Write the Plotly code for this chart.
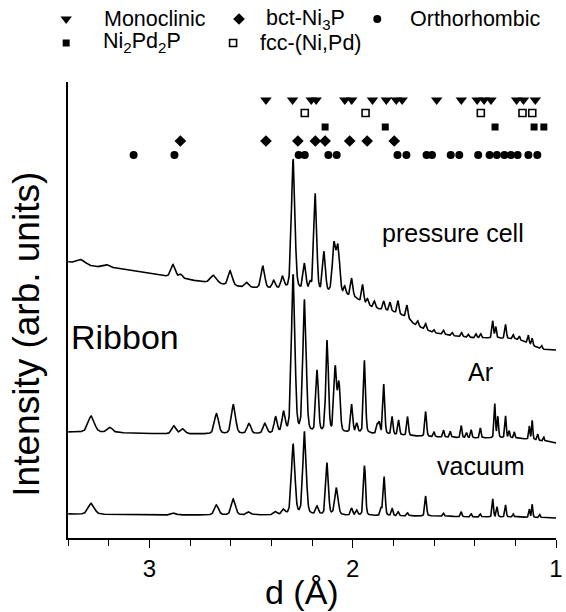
import numpy as np
import plotly.graph_objects as go

# ---------------- data ----------------
# reflection positions (d, Angstrom) of each phase
monoclinic_d = [2.427, 2.296, 2.204, 2.180, 2.039, 2.005, 1.903, 1.835, 1.786, 1.757,
                1.587, 1.466, 1.388, 1.354, 1.320, 1.194, 1.160, 1.102]
fcc_d = [2.236, 1.937, 1.370, 1.165, 1.117]
ni2pd2p_d = [2.136, 1.840, 1.300, 1.108, 1.060]
bct_d = [2.848, 2.427, 2.270, 2.184, 2.136, 2.015, 1.929, 1.796]
ortho_d = [3.078, 2.877, 2.266, 2.236, 2.120, 2.079, 1.780, 1.736, 1.637, 1.610,
           1.518, 1.476, 1.383, 1.327, 1.291, 1.254, 1.222, 1.189, 1.136, 1.092]
# row level (arb. units) of each set of reflection markers
row_level = {"mono": 438, "fcc": 425, "ni2pd2p": 411, "bct": 397, "ortho": 383}

# patterns: background points (d, intensity) and peaks (d, height, fwhm)
pressure_bg_d = [3.40, 3.30, 3.20, 3.00, 2.90, 2.80, 2.70, 2.60, 2.50, 2.40, 2.30, 2.20,
                 2.10, 2.00, 1.95, 1.90, 1.85, 1.80, 1.75, 1.72, 1.70, 1.65, 1.60, 1.50,
                 1.40, 1.30, 1.20, 1.15, 1.10, 1.05, 1.00]
pressure_bg_i = [276, 272, 270, 265, 261, 258, 255, 252, 250, 249, 248, 246,
                 244, 241, 235, 230, 228, 226, 222, 218, 214, 209, 205, 202,
                 200, 200, 199, 196, 191, 188, 188]
pressure_peaks = [(3.335, 5, 0.05), (3.204, 3, 0.04), (2.883, 13, 0.026), (2.845, 4, 0.02),
                  (2.684, 8, 0.035), (2.602, 15, 0.024), (2.519, 5, 0.022), (2.442, 22, 0.021),
                  (2.388, 8, 0.018), (2.345, 12, 0.018), (2.293, 130, 0.02), (2.237, 26, 0.016),
                  (2.209, 7, 0.012), (2.184, 98, 0.016), (2.141, 40, 0.016), (2.092, 48, 0.019),
                  (2.072, 46, 0.019), (2.039, 8, 0.012), (2.005, 18, 0.013), (1.951, 18, 0.012),
                  (1.927, 6, 0.012), (1.893, 7, 0.012), (1.847, 9, 0.011), (1.816, 9, 0.011),
                  (1.777, 13, 0.011), (1.733, 13, 0.011), (1.680, 5, 0.01), (1.641, 6, 0.01),
                  (1.600, 3, 0.009), (1.553, 4, 0.009), (1.510, 3, 0.009), (1.464, 4, 0.009),
                  (1.430, 3, 0.009), (1.393, 4, 0.009), (1.370, 4, 0.009), (1.311, 17, 0.009),
                  (1.296, 11, 0.008), (1.248, 14, 0.009), (1.210, 4, 0.008), (1.180, 4, 0.008),
                  (1.136, 8, 0.008), (1.117, 7, 0.008), (1.070, 3, 0.008)]

ar_bg_d = [3.40, 3.30, 3.10, 2.90, 2.70, 2.50, 2.30, 2.20, 2.00, 1.80, 1.60, 1.40, 1.20, 1.10, 1.00]
ar_bg_i = [106, 106, 105, 104, 104, 104, 104, 104, 105, 103, 101, 100, 100, 98, 95]
ar_peaks = [(3.286, 16, 0.035), (3.194, 5, 0.03), (2.879, 8, 0.026), (2.835, 5, 0.024),
            (2.670, 20, 0.024), (2.587, 29, 0.024), (2.510, 10, 0.022), (2.432, 10, 0.021),
            (2.379, 16, 0.018), (2.340, 20, 0.018), (2.293, 158, 0.02), (2.237, 133, 0.019),
            (2.175, 62, 0.015), (2.126, 92, 0.015), (2.086, 64, 0.015), (2.068, 48, 0.015),
            (2.005, 28, 0.012), (1.980, 9, 0.011), (1.942, 73, 0.012), (1.879, 9, 0.01),
            (1.869, 11, 0.01), (1.847, 50, 0.011), (1.806, 18, 0.01), (1.774, 15, 0.01),
            (1.730, 19, 0.01), (1.641, 25, 0.01), (1.600, 5, 0.008), (1.553, 7, 0.008),
            (1.520, 6, 0.008), (1.466, 12, 0.008), (1.440, 5, 0.008), (1.417, 8, 0.008),
            (1.372, 10, 0.008), (1.301, 34, 0.008), (1.286, 21, 0.008), (1.248, 22, 0.008),
            (1.230, 7, 0.007), (1.205, 6, 0.007), (1.131, 13, 0.007), (1.117, 19, 0.007),
            (1.090, 6, 0.007), (1.060, 4, 0.007)]

vac_bg_d = [3.40, 3.00, 2.60, 2.20, 1.80, 1.60, 1.40, 1.20, 1.00]
vac_bg_i = [24, 23, 23, 23, 22, 22, 21, 21, 20]
vac_peaks = [(3.286, 11, 0.035), (2.880, 2, 0.025), (2.670, 10, 0.024), (2.587, 16, 0.024),
             (2.510, 3, 0.022), (2.379, 3, 0.018), (2.340, 5, 0.018), (2.293, 70, 0.02),
             (2.237, 83, 0.019), (2.175, 8, 0.015), (2.126, 52, 0.015), (2.080, 27, 0.019),
             (2.005, 7, 0.012), (1.980, 5, 0.011), (1.942, 50, 0.012), (1.860, 7, 0.01),
             (1.845, 39, 0.011), (1.806, 7, 0.01), (1.776, 4, 0.01), (1.730, 3, 0.01),
             (1.641, 20, 0.01), (1.553, 3, 0.008), (1.466, 5, 0.008), (1.417, 3, 0.008),
             (1.372, 3, 0.008), (1.311, 18, 0.008), (1.290, 10, 0.008), (1.248, 12, 0.008),
             (1.210, 3, 0.007), (1.131, 8, 0.007), (1.117, 13, 0.007), (1.080, 3, 0.007)]

x_ticks = [3, 2, 1]
x_tick_text = ["3", "2", "1"]

# ---------------- build curves ----------------
grid = np.linspace(1.0, 3.4, 2400)


def pattern(bg_d, bg_i, peaks):
    y = np.interp(grid, bg_d[::-1], bg_i[::-1])
    for c, h, w in peaks:
        g = np.exp(-4 * np.log(2) * ((grid - c) / w) ** 2)
        l = 1.0 / (1.0 + 4 * ((grid - c) / w) ** 2)
        y = y + h * (0.7 * g + 0.3 * l)
    return y


FONT = "Liberation Sans, Arial, Helvetica, sans-serif"
W, H = 566, 612
L, R, T, B = 69, 563, 82, 538

fig = go.Figure()
for bg_d, bg_i, pk in [(pressure_bg_d, pressure_bg_i, pressure_peaks),
                       (ar_bg_d, ar_bg_i, ar_peaks),
                       (vac_bg_d, vac_bg_i, vac_peaks)]:
    fig.add_trace(go.Scatter(x=grid, y=pattern(bg_d, bg_i, pk), mode="lines",
                             line=dict(color="black", width=1.6), showlegend=False,
                             hoverinfo="skip"))

marker_sets = [
    (monoclinic_d, row_level["mono"], dict(symbol="triangle-down", size=10, color="black")),
    (fcc_d, row_level["fcc"], dict(symbol="square-open", size=7, color="black", line=dict(width=1.6))),
    (ni2pd2p_d, row_level["ni2pd2p"], dict(symbol="square", size=7, color="black")),
    (bct_d, row_level["bct"], dict(symbol="diamond", size=9, color="black")),
    (ortho_d, row_level["ortho"], dict(symbol="circle", size=8, color="black")),
]
for xs, lvl, mk in marker_sets:
    fig.add_trace(go.Scatter(x=xs, y=[lvl] * len(xs), mode="markers", marker=mk,
                             showlegend=False, hoverinfo="skip", cliponaxis=False))

# legend key markers on a full-figure axis in pixel units
legend_items = [
    ("Monoclinic", 67, 103, 19, dict(symbol="triangle-down", size=10, color="black")),
    ("bct-Ni<sub>3</sub>P", 242, 267, 19, dict(symbol="diamond", size=9, color="black")),
    ("Orthorhombic", 382, 413, 19, dict(symbol="circle", size=8, color="black")),
    ("Ni<sub>2</sub>Pd<sub>2</sub>P", 67, 102, 43, dict(symbol="square", size=7, color="black")),
    ("fcc-(Ni,Pd)", 236, 261, 43, dict(symbol="square-open", size=7, color="black", line=dict(width=1.6))),
]
for text, mx, tx, ty, mk in legend_items:
    fig.add_trace(go.Scatter(x=[mx], y=[ty], mode="markers", marker=mk, xaxis="x2", yaxis="y2",
                             showlegend=False, hoverinfo="skip", cliponaxis=False))

annotations = []
for text, mx, tx, ty, mk in legend_items:
    annotations.append(dict(x=tx / W, y=1 - ty / H, xref="paper", yref="paper", text=text,
                            showarrow=False, xanchor="left", yanchor="middle",
                            font=dict(size=21.5, family=FONT, color="black")))

labels = [("pressure cell", 459, 233, 25), ("Ar", 487, 372, 25), ("vacuum", 487, 466, 25),
          ("Ribbon", 127, 337, 34)]
for text, x, y, s in labels:
    annotations.append(dict(x=x / W, y=1 - y / H, xref="paper", yref="paper", text=text,
                            showarrow=False, xanchor="center", yanchor="middle",
                            font=dict(size=s, family=FONT, color="black")))

annotations.append(dict(x=27 / W, y=1 - 334 / H, xref="paper", yref="paper",
                        text="Intensity (arb. units)", textangle=-90, showarrow=False,
                        xanchor="center", yanchor="middle",
                        font=dict(size=37, family=FONT, color="black")))
annotations.append(dict(x=306 / W, y=1 - 592 / H, xref="paper", yref="paper",
                        text="d (Å)", showarrow=False, xanchor="center", yanchor="middle",
                        font=dict(size=34, family=FONT, color="black")))

fig.update_layout(
    width=W, height=H, margin=dict(l=0, r=0, t=0, b=0, pad=0),
    paper_bgcolor="white", plot_bgcolor="rgba(0,0,0,0)",
    font=dict(family=FONT, color="black"),
    showlegend=False,
    xaxis=dict(domain=[L / W, R / W], range=[3.4, 1.0], showgrid=False, zeroline=False,
               showline=True, linecolor="black", linewidth=1.5,
               ticks="outside", ticklen=8, tickwidth=1.3, tickcolor="black",
               tickvals=x_ticks, ticktext=x_tick_text, ticklabeloverflow="allow",
               tickfont=dict(size=24, family=FONT, color="black"),
               minor=dict(dtick=0.2, tick0=1.0, ticks="outside", ticklen=6, tickwidth=1.2,
                          tickcolor="black", showgrid=False)),
    yaxis=dict(domain=[1 - B / H, 1 - T / H], range=[0, B - T], showgrid=False, zeroline=False,
               showline=True, linecolor="black", linewidth=1.5, ticks="", showticklabels=False),
    xaxis2=dict(domain=[0, 1], range=[0, W], visible=False, anchor="y2"),
    yaxis2=dict(domain=[0, 1], range=[H, 0], visible=False, anchor="x2"),
    annotations=annotations,
)

fig.write_html("out.html", config={"displayModeBar": False},
               post_script="document.body.style.margin='0px';document.body.style.overflow='hidden';")
